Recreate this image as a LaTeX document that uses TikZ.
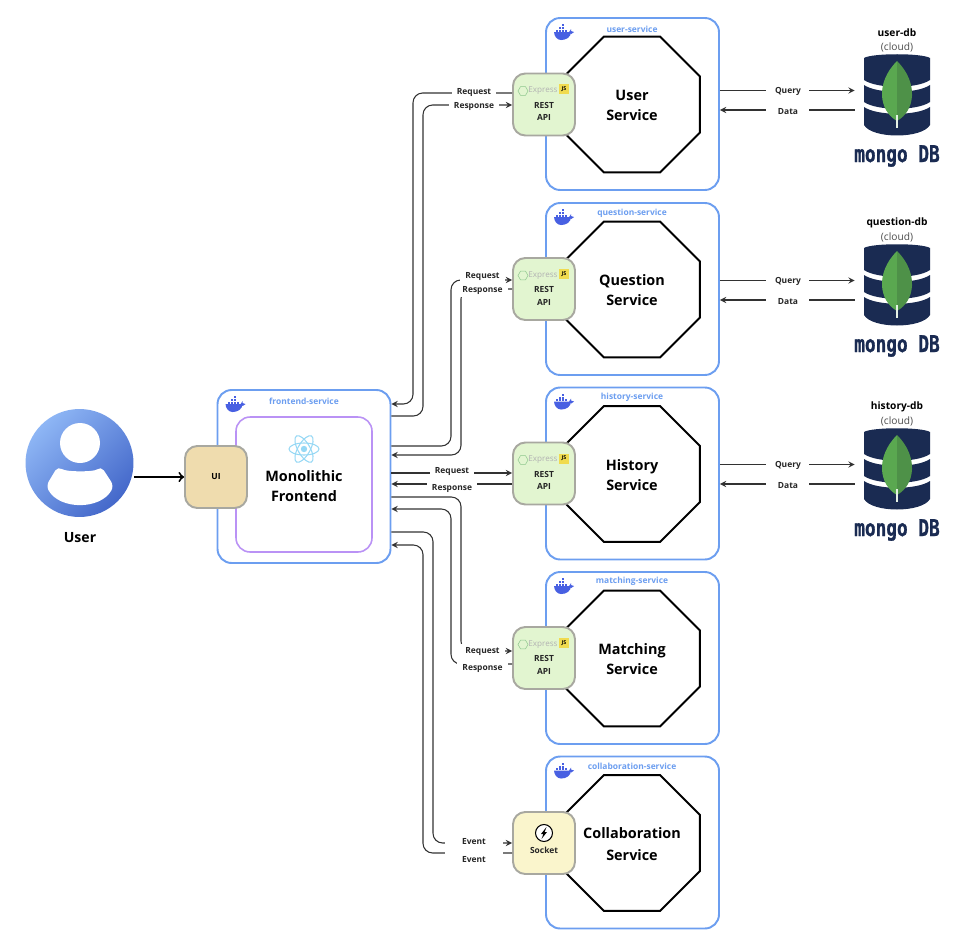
\documentclass[tikz,border=0pt]{standalone}
\usepackage{fontspec}
\setmainfont{Open Sans}
\newfontfamily\mongofont[BoldFeatures={FakeBold=1.2}]{DejaVu Sans Mono}
\usepackage{xcolor}
\definecolor{svcblue}{RGB}{108,158,240}
\definecolor{reactpurple}{RGB}{186,146,245}
\definecolor{reactsky}{RGB}{150,216,245}
\definecolor{dockerblue}{RGB}{72,96,226}
\definecolor{restgreen}{RGB}{226,245,208}
\definecolor{uitan}{RGB}{239,220,174}
\definecolor{socketyellow}{RGB}{250,245,204}
\definecolor{bordergray}{RGB}{168,168,160}
\definecolor{linegray}{RGB}{50,50,50}
\definecolor{mongonavy}{RGB}{26,43,82}
\definecolor{leafgreen}{RGB}{90,168,80}
\definecolor{leafdark}{RGB}{78,145,72}
\definecolor{jsyellow}{RGB}{240,219,79}
\definecolor{userlight}{RGB}{142,182,245}
\definecolor{userdark}{RGB}{68,104,202}
\usetikzlibrary{positioning,shapes.geometric,arrows,calc}
\tikzstyle{service} = [
    rectangle, draw=svcblue, fill=white,
    line width=1.1pt, rounded corners=8pt,
    minimum width=3.46cm,
    minimum height=3.44cm,
]
\tikzstyle{core} = [
    regular polygon, regular polygon sides=8,
    draw=black, fill=white, line width=1.1pt,
    minimum size=2.94cm, inner sep=0pt,
]
\tikzstyle{coretext} = [
    align=center, inner sep=0pt,
    font=\fontsize{8.2}{11.3}\selectfont\bfseries,
]
\tikzstyle{port} = [
    rectangle, draw=bordergray, line width=1.1pt, rounded corners=7pt,
    minimum width=1.24cm,
    minimum height=1.24cm,
]
\tikzstyle{rest} = [port, fill=restgreen]
\tikzstyle{small} = [
    font=\fontsize{4.8}{6.2}\selectfont\bfseries,
    text=black!85, align=center, inner sep=0pt,
]
\tikzstyle{tag} = [small, fill=white, inner xsep=1.5pt, inner ysep=1pt]
\tikzstyle{svcname} = [small, text=svcblue]
\tikzstyle{link} = [->,>=stealth, color=linegray, line width=.6pt, rounded corners=5.5pt]
\tikzset{
    whale/.pic={
        \fill [dockerblue] (-9,0) -- (8,0) .. controls (8,5) and (3,8) .. (-2,8)
            .. controls (-6,8) and (-9,4) .. (-9,0) -- cycle;
        \fill [dockerblue] (6,0) -- (8,-3) -- (8,-1) -- (11,0) -- (8,2) -- cycle;
        \foreach \bx/\by in {-7/-2.4,-4/-2.4,-1/-2.4,2/-2.4,-4/-5,-1/-5,-1/-7.6} {
            \fill [dockerblue] (\bx,\by) rectangle ++(2.3,2);
        }
    },
    expresslogo/.pic={
        \node [regular polygon, regular polygon sides=6, draw=green!50!black!45,
            minimum size=.2cm, inner sep=0pt, line width=.3pt] at (-21,0) {};
        \node [text=black!30, font=\fontsize{4.6}{6}\selectfont, inner sep=0pt] at (-1,0) {Express};
        \node [fill=jsyellow, minimum size=.2cm, inner sep=0pt,
            font=\fontsize{3}{3}\selectfont\bfseries] at (20,-1.5) {JS};
    },
    mongoicon/.pic={
        \fill [mongonavy] (-33,-39) .. controls (-25,-44) and (25,-44) .. (33,-39)
            -- (33,-17) .. controls (20,-8) and (-20,-8) .. (-33,-17) -- cycle;
        \fill [mongonavy] (-33,-12) .. controls (-20,-3) and (20,-3) .. (33,-12)
            -- (33,5) .. controls (20,14) and (-20,14) .. (-33,5) -- cycle;
        \fill [mongonavy] (-33,10) .. controls (-20,19) and (20,19) .. (33,10)
            -- (33,28) .. controls (25,42) and (-25,42) .. (-33,28) -- cycle;
        \fill [leafgreen] (0,-36) .. controls (-22,-14) and (-18,14) .. (0,24) -- cycle;
        \fill [leafdark] (0,-36) .. controls (22,-14) and (18,14) .. (0,24) -- cycle;
        \fill [white!85!leafgreen] (-1,18) rectangle (1,31);
        \node [text=mongonavy, inner sep=0pt] at (0,59)
            {\scalebox{1}[1.3]{\mongofont\fontsize{10.1}{12}\selectfont\bfseries mongo DB}};
    },
}

\begin{document}
\begin{tikzpicture}[x=.02cm,y=-.02cm]
    \useasboundingbox (0,0) rectangle (973,939);

    % services
    \foreach \id/\cy/\ct/\cname/\sname in {
        1/104/{User\\Service}/user-service/29,
        2/289/{Question\\Service}/question-service/213,
        3/473.5/{History\\Service}/history-service/397,
        4/658/{Matching\\Service}/matching-service/581,
        5/842.5/{Collaboration\\[1.2pt]Service}/collaboration-service/766} {
        \node (box\id) at (632.5, \cy) [service] {};
        \node (core\id) at (632, \cy+.5) [core] {};
        \node (text\id) at (632, \cy+1.5) [coretext] {\ct};
        \node (name\id) at (632, \sname) [svcname] {\cname};
        \pic at ($(box\id.north west)+(18,15)$) {whale};
    }

    % rest ports
    \foreach \id/\cy in {1/104.5,2/289,3/473.5,4/658} {
        \node (rest\id) at (544, \cy) [rest] {};
        \pic at (544, \cy-13.5) {expresslogo};
        \node (api\id) at (544, \cy+7) [small] {REST\\[1pt]API};
    }
    \node (socket) at (544, 843) [port, fill=socketyellow] {};
    \node (bolt) at (544, 833) [circle, draw=black, fill=white, line width=.6pt,
        minimum size=.34cm, inner sep=0pt] {};
    \fill (bolt.center) +(2.5,-6) -- +(-3,1) -- +(-.6,1) -- +(-2.5,6) -- +(3,-1) -- +(.6,-1) -- cycle;
    \node (sockettext) at (544, 850) [small] {Socket};

    % frontend
    \node (front) at (304, 476.5) [service, minimum height=3.46cm] {};
    \node (mono) at (304, 484.5) [rectangle, draw=reactpurple, line width=.9pt, rounded corners=8pt,
        minimum width=2.72cm, minimum height=2.7cm] {};
    \pic at ($(front.north west)+(18,15)$) {whale};
    \node (frontname) at (304, 401) [svcname] {frontend-service};
    \node (monotext) at (304, 486) [align=center, inner sep=0pt,
        font=\fontsize{8.2}{11.1}\selectfont\bfseries] {Monolithic\\Frontend};
    \foreach \a in {0,60,120} {
        \draw [reactsky, line width=.6pt, rotate around={\a:(304,449)}] (304,449) ellipse (15 and 6);
    }
    \fill [reactsky] (304,449) circle (3.2);
    \node (ui) at (216, 477) [port, fill=uitan, font=\fontsize{4.8}{6}\selectfont\bfseries] {UI};

    % user
    \node (user) at (79.5, 463) [circle, minimum size=2.16cm, inner sep=0pt,
        top color=userlight, bottom color=userdark, shading angle=45] {};
    \fill [white] (80, 443) circle (20);
    \fill [white, rounded corners=3pt] (58,466) .. controls (66,472) and (94,472) .. (101,466)
        -- (114,486) .. controls (100,510) and (60,510) .. (46,486) -- cycle;
    \node (usertext) at (80, 537.5) [font=\fontsize{8}{10}\selectfont\bfseries] {User};
    \draw [->,>=to, line width=1.1pt] (user.east |- ui.west) to (ui.west);

    % databases
    \foreach \id/\cy/\dname/\dy in {1/97/user-db/40.5,2/287/question-db/230,3/471/history-db/414} {
        \node (db\id) at (897, \cy) [minimum width=1.68cm, minimum height=1.56cm, inner sep=0pt] {};
        \pic at (db\id.center) {mongoicon};
        \node (dbname\id) at (897, \dy) [font=\fontsize{5.8}{7.6}\selectfont, align=center, inner sep=0pt]
            {\textbf{\dname}\\[.6pt]\textcolor{black!70}{(cloud)}};
        \coordinate (dbq\id) at ($(db\id.west)+(0,-6.5)$);
        \coordinate (dbd\id) at ($(db\id.west)+(0,13)$);
        \draw [link] (box\id.east |- dbq\id) to (dbq\id);
        \draw [link] (dbd\id) to (box\id.east |- dbd\id);
        \node (query\id) at ($(box\id.east |- dbq\id)+(68,1)$) [tag, minimum width=.86cm] {Query};
        \node (data\id) at ($(box\id.east |- dbd\id)+(68,2)$) [tag, minimum width=.86cm] {Data};
    }

    % links between frontend and services
    \draw [link] (rest1.west |- 0,93) -- (413,93) -- (413,404) -- (front.east |- 0,404);
    \draw [link] (front.east |- 0,416) -- (423,416) -- (423,105) -- (rest1.west |- 0,105);
    \draw [link] (front.east |- 0,446) -- (451,446) -- (451,280) -- (rest2.west |- 0,280);
    \draw [link] (rest2.west |- 0,289) -- (461,289) -- (461,455) -- (front.east |- 0,455);
    \draw [link] (front.east |- 0,473) -- (rest3.west |- 0,473);
    \draw [link] (rest3.west |- 0,484) -- (front.east |- 0,484);
    \draw [link] (front.east |- 0,497) -- (461,497) -- (461,651) -- (rest4.west |- 0,651);
    \draw [link] (rest4.west |- 0,664) -- (451,664) -- (451,509) -- (front.east |- 0,509);
    \draw [link] (front.east |- 0,532) -- (433,532) -- (433,843) -- (socket.west |- 0,843);
    \draw [link] (socket.west |- 0,853) -- (423,853) -- (423,545) -- (front.east |- 0,545);

    % labels
    \node (req1) at (474, 92.5) [tag, inner xsep=3pt] {Request};
    \node (res1) at (474, 106.5) [tag, inner xsep=3pt] {Response};
    \node (req2) at (482.5, 277) [tag, inner xsep=3pt, inner ysep=2.2pt] {Request};
    \node (res2) at (482.5, 291) [tag, inner xsep=3pt] {Response};
    \node (req3) at (452, 471.5) [tag, inner xsep=3pt] {Request};
    \node (res3) at (452, 488.5) [tag, inner xsep=3pt] {Response};
    \node (req4) at (482.5, 651.5) [tag, inner xsep=3pt, inner ysep=2.2pt] {Request};
    \node (res4) at (482.5, 668.5) [tag, inner xsep=3pt, inner ysep=2.2pt] {Response};
    \node (evt1) at (474, 842) [tag, inner xsep=10pt, inner ysep=1.5pt] {Event};
    \node (evt2) at (474, 860) [tag, inner xsep=10pt, inner ysep=4pt] {Event};
\end{tikzpicture}
\end{document}
